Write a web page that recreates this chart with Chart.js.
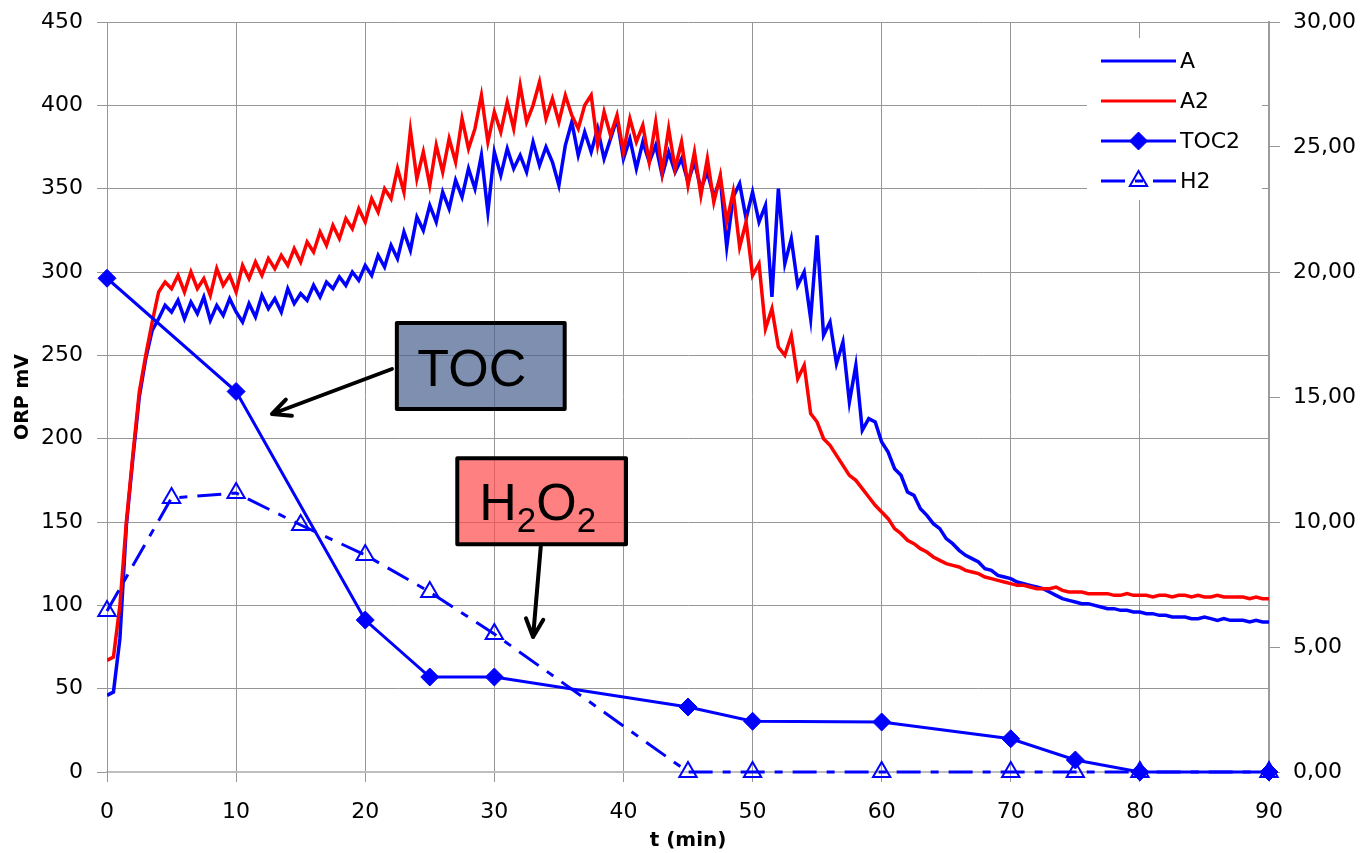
<!DOCTYPE html>
<html>
<head>
<meta charset="utf-8">
<script src="https://cdn.jsdelivr.net/npm/chart.js@4/dist/chart.umd.min.js"></script>
<style>
  html, body { margin: 0; padding: 0; background: #fff; }
  #wrap { width: 1363px; height: 853px; }
</style>
</head>
<body>
<div id="wrap"><canvas id="chart" width="1363" height="853"></canvas></div>
<script>
// time grid of the ORP logs, one reading every half minute
const tFine = [];
for (let i = 0; i <= 180; i++) tFine.push(i / 2);

// ORP mV, run A (blue)
const orpA = [
  46, 48, 80, 148, 188, 225, 248, 265, 272, 280,
  276, 283, 272, 282, 275, 285, 271, 280, 274, 284,
  276, 270, 281, 273, 286, 278, 284, 276, 290, 281,
  287, 283, 292, 285, 294, 290, 297, 292, 300, 295,
  304, 298, 310, 303, 316, 308, 324, 313, 333, 325,
  340, 330, 348, 338, 355, 345, 362, 350, 370, 336,
  372, 358, 374, 362, 370, 360, 378, 364, 375, 366,
  352, 376, 390, 370, 384, 372, 386, 368, 380, 392,
  368, 380, 362, 378, 366, 376, 358, 372, 360, 368,
  354, 366, 350, 360, 345, 356, 315, 345, 353, 332,
  348, 330, 340, 285, 350, 305, 320, 292, 300, 272,
  322, 262, 270, 245, 258, 222, 244, 205, 212, 210,
  198, 192, 182, 178, 168, 166, 158, 154, 149, 146,
  140, 137, 133, 130, 128, 126, 122, 121, 118, 117,
  116, 114, 113, 112, 111, 110, 108, 106, 104, 103,
  102, 101, 101, 100, 99, 98, 98, 97, 97, 96,
  96, 95, 95, 94, 94, 93, 93, 93, 92, 92,
  93, 92, 91, 92, 91, 91, 91, 90, 91, 90,
  90
];

// ORP mV, run A2 (red)
const orpA2 = [
  67, 69, 100, 150, 190, 228, 250, 270, 288, 294,
  290, 298, 288, 300, 290, 296, 286, 302, 292, 298,
  288, 304, 296, 306, 298, 308, 302, 310, 304, 314,
  306, 318, 312, 324, 316, 328, 320, 332, 326, 338,
  330, 344, 336, 350, 344, 362, 348, 385, 356, 372,
  352, 376, 360, 380, 366, 392, 374, 386, 406, 378,
  396, 384, 402, 386, 412, 390, 400, 414, 392, 404,
  390, 406, 394, 386, 400, 406, 376, 396, 382, 394,
  372, 392, 378, 388, 366, 390, 360, 386, 362, 378,
  352, 372, 346, 368, 342, 358, 330, 348, 315, 330,
  298, 305, 266, 278, 255, 250, 262, 236, 244, 215,
  210, 200, 196, 190, 184, 178, 175, 170, 165, 160,
  156, 152, 146, 143, 139, 137, 134, 132, 129, 127,
  125, 124, 123, 121, 120, 119, 117, 116, 115, 114,
  113, 112, 112, 111, 110, 110, 110, 111, 109, 108,
  108, 108, 107, 107, 107, 107, 106, 106, 107, 106,
  106, 106, 105, 106, 106, 105, 106, 106, 105, 106,
  105, 105, 106, 105, 105, 105, 105, 104, 105, 104,
  104
];

// TOC (right axis)
const tTOC = [0, 10, 20, 25, 30, 45, 50, 60, 70, 75, 80, 90];
const toc2 = [19.75, 15.22, 6.08, 3.8, 3.8, 2.6, 2.03, 2.0, 1.33, 0.48, 0, 0];

// H2O2 (right axis)
const tH2 = [0, 5, 10, 15, 20, 25, 30, 45, 50, 60, 70, 75, 80, 90];
const h2 = [6.44, 10.96, 11.16, 9.88, 8.68, 7.2, 5.52, 0, 0, 0, 0, 0, 0, 0];

const xTicks = [0, 10, 20, 30, 40, 50, 60, 70, 80, 90];
const legendOrder = ['A', 'A2', 'TOC2', 'H2'];

const pts = (xs, ys) => ys.map((v, i) => ({ x: xs[i], y: v }));

const FONT = '"DejaVu Sans", Verdana, sans-serif';
const GRID = 'rgb(150,150,150)';

// boxed notes with arrows, in data units (x: min, y: mV)
const notes = [
  { text: 'TOC', x0: 22.45, x1: 35.45, y0: 269.4, y1: 217.8, fill: 'rgba(72,95,142,0.7)',
    from: [22.07, 241.8], to: [12.78, 214.8], shift: -9 },
  { text: 'H2O2', x0: 27.13, x1: 40.2, y0: 188.2, y1: 136.6, fill: 'rgba(255,74,74,0.7)',
    from: [33.61, 136.4], to: [33.0, 81], shift: -4 }
];

const notesPlugin = {
  id: 'notes',
  afterDatasetsDraw(chart) {
    const { ctx, scales } = chart;
    const px = v => scales.x.getPixelForValue(v);
    const py = v => scales.y.getPixelForValue(v);
    ctx.save();
    notes.forEach(n => {
      const l = px(n.x0), r = px(n.x1), t = py(n.y0), b = py(n.y1);
      ctx.fillStyle = n.fill;
      ctx.fillRect(l, t, r - l, b - t);
      ctx.lineWidth = 4;
      ctx.strokeStyle = '#000';
      ctx.lineJoin = 'round';
      ctx.strokeRect(l, t, r - l, b - t);

      ctx.fillStyle = '#000';
      ctx.textBaseline = 'alphabetic';
      const big = '52px "Liberation Sans", Arial, sans-serif';
      const small = '35px "Liberation Sans", Arial, sans-serif';
      const cx = (l + r) / 2 + n.shift;
      if (n.text === 'TOC') {
        ctx.font = big;
        ctx.textAlign = 'center';
        ctx.fillText('TOC', cx, t + 63);
      } else {
        const parts = [['H', big, 0], ['2', small, 12], ['O', big, 0], ['2', small, 12]];
        let w = 0;
        parts.forEach(p => { ctx.font = p[1]; w += ctx.measureText(p[0]).width; });
        let x = cx - w / 2;
        ctx.textAlign = 'left';
        parts.forEach(p => {
          ctx.font = p[1];
          ctx.fillText(p[0], x, t + 62 + p[2]);
          x += ctx.measureText(p[0]).width;
        });
      }

      // arrow
      const x1 = px(n.from[0]), y1 = py(n.from[1]);
      const x2 = px(n.to[0]), y2 = py(n.to[1]);
      ctx.lineWidth = 4;
      ctx.lineCap = 'round';
      ctx.beginPath();
      ctx.moveTo(x1, y1);
      ctx.lineTo(x2, y2);
      const a = Math.atan2(y1 - y2, x1 - x2);
      const hl = 20;
      ctx.moveTo(x2 + hl * Math.cos(a - 0.45), y2 + hl * Math.sin(a - 0.45));
      ctx.lineTo(x2, y2);
      ctx.lineTo(x2 + hl * Math.cos(a + 0.45), y2 + hl * Math.sin(a + 0.45));
      ctx.stroke();
    });
    ctx.restore();
  }
};

const legendPlugin = {
  id: 'boxLegend',
  afterDraw(chart) {
    const { ctx, chartArea } = chart;
    const right = chartArea.right;
    ctx.save();
    ctx.fillStyle = '#fff';
    ctx.fillRect(right - 182, 38, 175, 162);
    legendOrder.forEach((name, i) => {
      const ds = chart.data.datasets.find(d => d.label === name);
      const y = 61 + i * 40;
      const xa = right - 168, xb = right - 93;
      ctx.strokeStyle = ds.borderColor;
      ctx.lineWidth = 3;
      ctx.setLineDash(ds.borderDash || []);
      ctx.beginPath();
      ctx.moveTo(xa, y);
      ctx.lineTo(xb, y);
      ctx.stroke();
      ctx.setLineDash([]);
      if (ds.pointRadius > 0) {
        ctx.fillStyle = ds.pointBackgroundColor;
        ctx.strokeStyle = ds.pointBorderColor;
        ctx.lineWidth = ds.pointBorderWidth;
        Chart.helpers.drawPoint(ctx, { pointStyle: ds.pointStyle, radius: ds.pointRadius,
          borderWidth: ds.pointBorderWidth, rotation: 0 }, (xa + xb) / 2, y);
      }
      ctx.fillStyle = '#000';
      ctx.font = '22px ' + FONT;
      ctx.textAlign = 'left';
      ctx.textBaseline = 'middle';
      ctx.fillText(name, right - 89, y + 1);
    });
    ctx.restore();
  }
};

const datasets = [
  { label: 'A', data: pts(tFine, orpA), yAxisID: 'y', borderColor: '#0000ff', borderWidth: 3.5,
    pointRadius: 0, order: 4 },
  { label: 'A2', data: pts(tFine, orpA2), yAxisID: 'y', borderColor: '#ff0000', borderWidth: 3.5,
    pointRadius: 0, order: 3 },
  { label: 'TOC2', data: pts(tTOC, toc2), yAxisID: 'y1', borderColor: '#0000ff', borderWidth: 3,
    pointStyle: 'rectRot', pointRadius: 9, pointBackgroundColor: '#0000ff',
    pointBorderColor: '#0000ff', pointBorderWidth: 1, order: 2, clip: false },
  { label: 'H2', data: pts(tH2, h2), yAxisID: 'y1', borderColor: '#0000ff', borderWidth: 3,
    borderDash: [24, 10, 8, 10], pointStyle: 'triangle', pointRadius: 10,
    pointBackgroundColor: 'rgba(0,0,0,0)', pointBorderColor: '#0000ff', pointBorderWidth: 2,
    order: 1, clip: false }
];

// vertical axes: fixed width, and no extra top/bottom room for their labels
const fitSide = w => s => { s.width = w; s.paddingTop = 0; s.paddingBottom = 0; };

new Chart(document.getElementById('chart'), {
  type: 'line',
  data: { datasets },
  plugins: [notesPlugin, legendPlugin],
  options: {
    responsive: false,
    animation: false,
    devicePixelRatio: 1,
    layout: { padding: { top: 22, left: 0, right: 0, bottom: 0 } },
    elements: { line: { tension: 0 } },
    plugins: { legend: { display: false }, tooltip: { enabled: false } },
    scales: {
      x: {
        type: 'linear', min: 0, max: 90,
        afterBuildTicks: s => { s.ticks = xTicks.map(v => ({ value: v })); },
        afterFit: s => { s.height = 81; },
        grid: { color: GRID, lineWidth: 1, tickLength: 10 },
        border: { color: 'rgb(190,190,190)', width: 2 },
        ticks: { color: '#000', font: { family: FONT, size: 22 }, padding: 17, maxRotation: 0 },
        title: { display: true, text: 't (min)', color: '#000',
          font: { family: FONT, size: 20, weight: 'bold' }, padding: { top: 0, bottom: 0 } }
      },
      y: {
        position: 'left', min: 0, max: 450,
        ticks: { stepSize: 50, color: '#000', font: { family: FONT, size: 22 }, padding: 14 },
        afterFit: fitSide(107),
        grid: { color: GRID, lineWidth: 1, tickLength: 10 },
        border: { color: GRID, width: 1 },
        title: { display: true, text: 'ORP mV', color: '#000',
          font: { family: FONT, size: 19, weight: 'bold' }, padding: { top: 12, bottom: 0 } }
      },
      y1: {
        position: 'right', min: 0, max: 30,
        ticks: { stepSize: 5, color: '#000', font: { family: FONT, size: 22 }, padding: 13,
          callback: v => v.toFixed(2).replace('.', ',') },
        afterFit: fitSide(94),
        grid: { drawOnChartArea: false, color: GRID, tickLength: 11 },
        border: { color: 'rgb(155,155,155)', width: 2 }
      }
    }
  }
});
</script>
</body>
</html>
